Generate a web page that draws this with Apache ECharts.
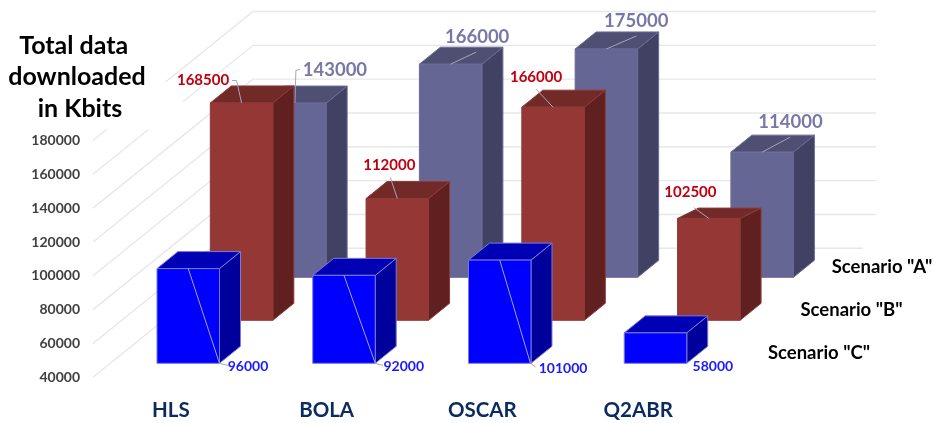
<!DOCTYPE html>
<html>
<head>
<meta charset="utf-8">
<style>html,body{margin:0;padding:0;background:#fff}#c{width:934px;height:423px}</style>
<script src="https://cdn.jsdelivr.net/npm/echarts@6/dist/echarts.min.js"></script>
</head>
<body>
<div id="c"></div>
<script>
// ---- data ----
const categories = ['HLS', 'BOLA', 'OSCAR', 'Q2ABR'];
const scenarioA = [143000, 166000, 175000, 114000];
const scenarioB = [168500, 112000, 166000, 102500];
const scenarioC = [96000, 92000, 101000, 58000];
const yTicks = [40000, 60000, 80000, 100000, 120000, 140000, 160000, 180000];
const scenarioNames = ['Scenario "A"', 'Scenario "B"', 'Scenario "C"'];
const titleLines = ['Total data', 'downloaded', 'in Kbits'];

// ---- presentation ----
const FONT = 'Lato, "Open Sans", sans-serif';
const WALL = [160, -129];          // oblique vector of the full depth of the floor
const BOX = [21, -17];             // oblique vector of one bar's depth
const BAR_W = 62.5;

const rows = {
  A: {
    values: scenarioA, depth: 100, z: 3,
    face: '#666694', top: '#4f4f74', side: '#414164', edge: '#6a6a98',
    font: 'normal 700 18.5px ' + FONT, color: '#7878a8',
    labels: [[40, -32.6], [26.5, -26.7], [29.8, -27.7], [28.4, -29.7]],
    leaders: [[[0, 0], [1, -32.6], [5, -33.6]], [[0, 0], [25.5, -12]], [[0, 0], [30, -13]], [[0, 0], [28, -15]]]
  },
  B: {
    values: scenarioB, depth: 57, z: 4,
    face: '#953735', top: '#712a28', side: '#602020', edge: '#8e3a38',
    font: 'normal 700 15px ' + FONT, color: '#c00010',
    labels: [[-38.5, -22.4], [-8, -33.8], [-17, -29.7], [-18.4, -22.2]],
    leaders: [[[0, 0], [-5, -22.4], [-9.5, -22.4]], [[0, 0], [-7, -21]], [[0, 0], [-17, -18]], [[0, 3.8], [-15, -7]]],
    overrides: { 3: { lower: 3.8, topRise: 10.3 } }
  },
  C: {
    values: scenarioC, depth: 14, z: 5,
    face: '#0000ff', top: '#0000b4', side: '#00009a', edge: '#7a7ad8',
    font: 'normal 700 14px ' + FONT, color: '#1a1aff',
    labels: [[59.75, 97.5], [59.75, 91], [63.35, 108.2], [57.35, 33.5]],
    leaders: [[[0, 0], [31.25, 94.8], [39.75, 96.8]], [[0, 0], [31.25, 88], [39, 90]], [[0, 0], [30.7, 103.2], [35.7, 106.9]], null]
  }
};

function boxSeries(row) {
  return {
    type: 'custom',
    coordinateSystem: 'cartesian2d',
    z: row.z,
    silent: true,
    clip: false,
    encode: { x: 0, y: 1 },
    data: categories.map((c, i) => [i, row.values[i]]),
    renderItem(params, api) {
      const i = api.value(0);
      const ox = row.depth * WALL[0] / -WALL[1];
      const topP = api.coord([i, api.value(1)]);
      const baseP = api.coord([i, yTicks[0]]);
      const ov = (row.overrides && row.overrides[i]) || {};
      const cx = topP[0] + ox;
      const yTop = topP[1] - row.depth;
      const y0 = yTop + (ov.lower || 0);
      const y1 = baseP[1] - row.depth;
      const x0 = cx - BAR_W / 2, x1 = cx + BAR_W / 2;
      const bx = BOX[0], by = BOX[1];
      const rise = ov.topRise !== undefined ? -ov.topRise : by;
      const poly = (points, fill) => ({
        type: 'polygon', shape: { points },
        style: { fill, stroke: row.edge, lineWidth: 1 }
      });
      const children = [
        poly([[x1, y0], [x1 + bx, y0 + rise], [x1 + bx, y1 + by], [x1, y1]], row.side),
        poly([[x0, y0], [x0 + bx, y0 + rise], [x1 + bx, y0 + rise], [x1, y0]], row.top),
        poly([[x0, y0], [x1, y0], [x1, y1], [x0, y1]], row.face)
      ];
      const leader = row.leaders[i];
      if (leader) {
        children.push({
          type: 'polyline',
          shape: { points: leader.map(p => [cx + p[0], yTop + p[1]]) },
          style: { fill: 'none', stroke: '#a6a6b4', lineWidth: 1 }
        });
      }
      children.push({
        type: 'text',
        style: {
          x: cx + row.labels[i][0], y: yTop + row.labels[i][1],
          text: String(api.value(1)), font: row.font, fill: row.color,
          align: 'center', verticalAlign: 'middle'
        }
      });
      return { type: 'group', children };
    }
  };
}

const wallSeries = {
  type: 'custom',
  coordinateSystem: 'cartesian2d',
  z: 1,
  silent: true,
  clip: false,
  encode: { x: 0, y: 1 },
  data: yTicks.map(v => [0, v]),
  renderItem(params, api) {
    const y = api.coord([0, api.value(1)])[1];
    const x0 = params.coordSys.x;
    const w = params.coordSys.width;
    return {
      type: 'polyline',
      shape: { points: [[x0, y], [x0 + WALL[0], y + WALL[1]], [x0 + WALL[0] + w, y + WALL[1]]] },
      style: { fill: 'none', stroke: '#e8e8e8', lineWidth: 1.4 }
    };
  }
};

const titleGeom = [[73.7, 46], [77, 77], [80, 109]];
const scenarioGeom = [[882, 267], [851.5, 310], [819, 353]];

const option = {
  animation: false,
  backgroundColor: '#fff',
  grid: { left: 93, top: 140.5, width: 623, height: 236.8, containLabel: false },
  xAxis: {
    type: 'category',
    data: categories,
    axisLine: { show: false },
    axisTick: { show: false },
    splitLine: { show: false },
    axisLabel: {
      margin: 23, interval: 0,
      fontFamily: FONT, fontWeight: 700, fontSize: 20.5, color: '#0b2a5e'
    }
  },
  yAxis: {
    type: 'value',
    min: yTicks[0],
    max: yTicks[yTicks.length - 1],
    interval: yTicks[1] - yTicks[0],
    axisLine: { show: false },
    axisTick: { show: false },
    splitLine: { show: false },
    axisLabel: {
      margin: 13,
      formatter: v => String(v),
      fontFamily: FONT, fontWeight: 700, fontSize: 14, color: '#404040'
    }
  },
  graphic: {
    elements: [
      { type: 'rect', z: 2, silent: true, shape: { x: 0, y: 82, width: 183, height: 47.5 }, style: { fill: '#fff' } },
      { type: 'rect', z: 2, silent: true, shape: { x: 863, y: 240, width: 71, height: 40 }, style: { fill: '#fff' } }
    ].concat(titleLines.map((t, i) => ({
      type: 'text', z: 10, silent: true,
      style: {
        x: titleGeom[i][0], y: titleGeom[i][1], text: t,
        font: '700 25px ' + FONT, fill: '#000', align: 'center', verticalAlign: 'middle'
      }
    }))).concat(scenarioNames.map((t, i) => ({
      type: 'text', z: 10, silent: true,
      style: {
        x: scenarioGeom[i][0], y: scenarioGeom[i][1], text: t,
        font: '700 18.5px ' + FONT, fill: '#000', align: 'center', verticalAlign: 'middle'
      }
    })))
  },
  series: [wallSeries, boxSeries(rows.A), boxSeries(rows.B), boxSeries(rows.C)]
};

const chart = echarts.init(document.getElementById('c'), null, { renderer: 'canvas' });
chart.setOption(option);
</script>
</body>
</html>
